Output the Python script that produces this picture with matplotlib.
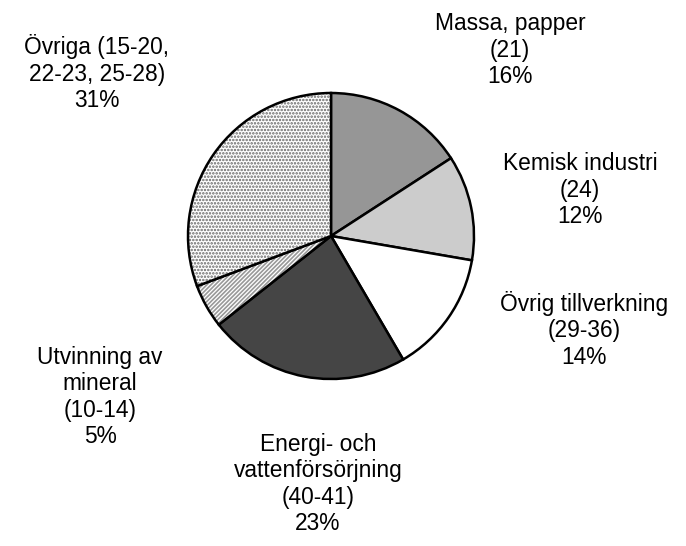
import matplotlib.pyplot as plt

plt.rcParams['font.family'] = ['Liberation Sans', 'DejaVu Sans']
plt.rcParams['hatch.linewidth'] = 1.2

labels = ['Massa, papper\n(21)\n16%', 'Kemisk industri\n(24)\n12%',
          'Övrig tillverkning\n(29-36)\n14%',
          'Energi- och\nvattenförsörjning\n(40-41)\n23%',
          'Utvinning av\nmineral\n(10-14)\n5%',
          'Övriga (15-20,\n22-23, 25-28)\n31%']
shares = [16, 12, 14, 23, 5, 31]
colors = ['#969696', '#cccccc', '#ffffff', '#454545', '#ffffff', '#ffffff']
hatches = [None, None, None, None, '////////', '.....']
hatch_colors = [None, None, None, None, '#999999', '#666666']
# label centres in pixels
label_pos = [(510, 50), (580, 190), (584, 330), (318, 484), (100, 397), (97, 73)]

W, H = 686, 546
fig = plt.figure(figsize=(W / 100, H / 100), dpi=100)
cx, cy, r = 331, 236, 143
ax = fig.add_axes([(cx - r) / W, (H - cy - r) / H, 2 * r / W, 2 * r / H])

wedges, _ = ax.pie(shares, colors=colors, startangle=90, counterclock=False,
                   wedgeprops=dict(edgecolor='black', linewidth=1.8))
for w, h, hc in zip(wedges, hatches, hatch_colors):
    if h:
        w.set_hatch(h)
        w._hatch_color = plt.matplotlib.colors.to_rgba(hc)
ax.set_xlim(-1, 1)
ax.set_ylim(-1, 1)
ax.set_aspect('equal')
ax.axis('off')

for txt, (px, py) in zip(labels, label_pos):
    fig.text(px / W, 1 - py / H, txt, ha='center', va='center',
             fontsize=16.4, linespacing=1.2)

fig.savefig('out.png', dpi=100)
